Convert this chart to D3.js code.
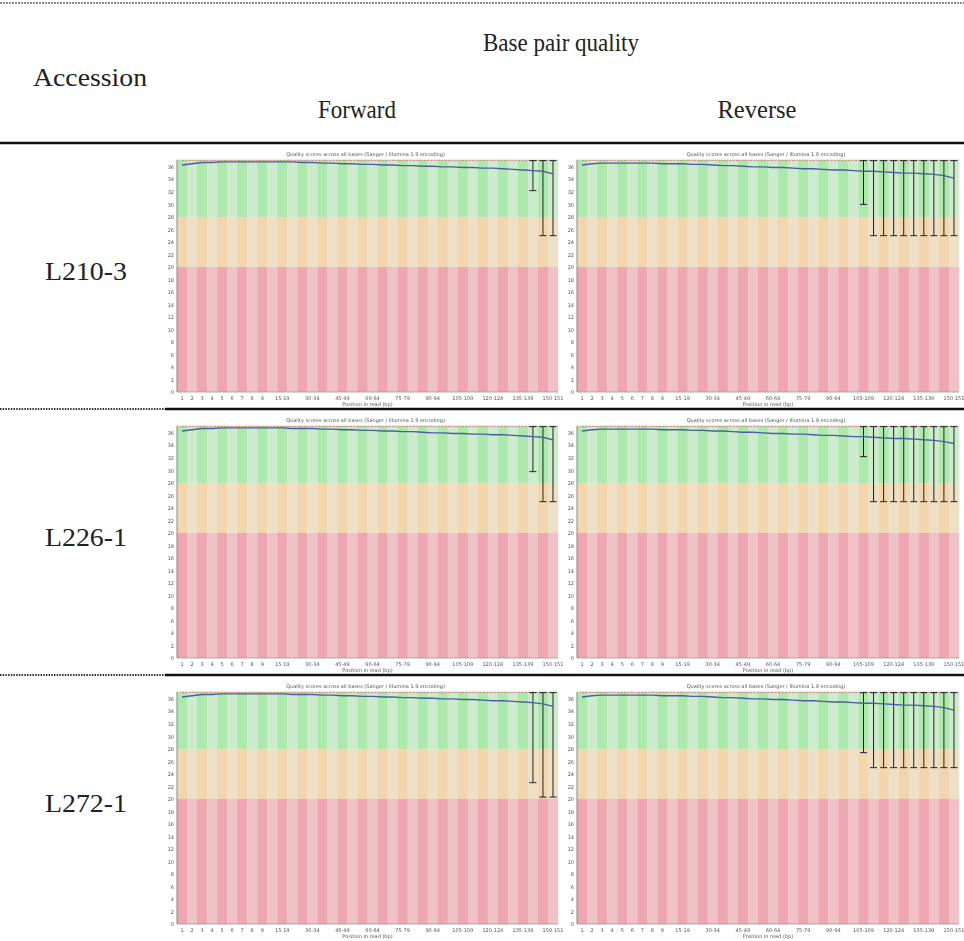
<!DOCTYPE html>
<html>
<head>
<meta charset="utf-8">
<script src="https://cdn.jsdelivr.net/npm/d3@7"></script>
<style>
  html, body { margin: 0; padding: 0; background: #fff; }
  svg { display: block; }
</style>
</head>
<body>
<svg id="chart" width="964" height="941"></svg>
<script>
// Accessions (table rows) and read directions (table columns)
const accessions = ["L210-3", "L226-1", "L272-1"];
const directions = ["Forward", "Reverse"];

// Base position groups along the read (FastQC grouping for 151 bp reads)
const positions = ["1","2","3","4","5","6","7","8","9",
  "10-14","15-19","20-24","25-29","30-34","35-39","40-44","45-49","50-54","55-59",
  "60-64","65-69","70-74","75-79","80-84","85-89","90-94","95-99","100-104","105-109",
  "110-114","115-119","120-124","125-129","130-134","135-139","140-144","145-149","150-151"];
const shownPositions = ["1","2","3","4","5","6","7","8","9","15-19","30-34","45-49",
  "60-64","75-79","90-94","105-109","120-124","135-139","150-151"];
const qualityTicks = [0,2,4,6,8,10,12,14,16,18,20,22,24,26,28,30,32,34,36];

// Mean Phred quality per position group
const meanL210F = [36.3,36.5,36.7,36.7,36.8,36.8,36.8,36.8,36.8,36.8,36.8,36.8,36.7,36.7,36.6,36.6,36.5,36.5,36.4,
  36.4,36.3,36.3,36.2,36.2,36.1,36.1,36.0,36.0,35.9,35.9,35.8,35.8,35.7,35.6,35.5,35.4,35.3,34.9];
const meanL210R = [36.3,36.5,36.6,36.6,36.6,36.6,36.6,36.6,36.5,36.5,36.5,36.4,36.4,36.3,36.2,36.2,36.1,36.0,36.0,
  35.9,35.9,35.8,35.7,35.7,35.6,35.5,35.5,35.4,35.3,35.3,35.2,35.1,35.0,35.0,34.9,34.8,34.6,34.2];
const meanL226F = [36.3,36.5,36.7,36.7,36.8,36.8,36.8,36.8,36.8,36.8,36.8,36.7,36.7,36.7,36.6,36.6,36.5,36.5,36.4,
  36.4,36.3,36.3,36.2,36.2,36.1,36.0,36.0,35.9,35.9,35.8,35.8,35.7,35.7,35.6,35.5,35.4,35.3,34.9];
const meanL226R = [36.3,36.5,36.6,36.6,36.6,36.6,36.6,36.6,36.5,36.5,36.5,36.4,36.4,36.3,36.3,36.2,36.1,36.1,36.0,
  35.9,35.9,35.8,35.8,35.7,35.6,35.6,35.5,35.4,35.4,35.3,35.2,35.1,35.1,35.0,34.9,34.8,34.6,34.3];
const meanL272F = [36.3,36.5,36.7,36.7,36.8,36.8,36.8,36.8,36.8,36.8,36.8,36.7,36.7,36.7,36.6,36.6,36.5,36.5,36.4,
  36.4,36.3,36.3,36.2,36.2,36.1,36.1,36.0,36.0,35.9,35.9,35.8,35.7,35.7,35.6,35.5,35.4,35.2,34.8];
const meanL272R = [36.3,36.5,36.6,36.6,36.6,36.6,36.6,36.6,36.5,36.5,36.5,36.4,36.4,36.3,36.2,36.2,36.1,36.0,36.0,
  35.9,35.9,35.8,35.7,35.7,35.6,35.5,35.5,35.4,35.3,35.3,35.2,35.1,35.0,35.0,34.9,34.8,34.6,34.2];

// Median quality per position group
const medianAll = [37,37,37,37,37,37,37,37,37,37,37,37,37,37,37,37,37,37,37,
  37,37,37,37,37,37,37,37,37,37,37,37,37,37,37,37,37,37,37];

// 10th percentile (lower whisker) per position group; upper whisker sits at 37
const lowL210F = [37,37,37,37,37,37,37,37,37,37,37,37,37,37,37,37,37,37,37,
  37,37,37,37,37,37,37,37,37,37,37,37,37,37,37,37,32.2,25,25];
const lowL210R = [37,37,37,37,37,37,37,37,37,37,37,37,37,37,37,37,37,37,37,
  37,37,37,37,37,37,37,37,37,30,25,25,25,25,25,25,25,25,25];
const lowL226F = [37,37,37,37,37,37,37,37,37,37,37,37,37,37,37,37,37,37,37,
  37,37,37,37,37,37,37,37,37,37,37,37,37,37,37,37,29.8,25,25];
const lowL226R = [37,37,37,37,37,37,37,37,37,37,37,37,37,37,37,37,37,37,37,
  37,37,37,37,37,37,37,37,37,32.2,25,25,25,25,25,25,25,25,25];
const lowL272F = [37,37,37,37,37,37,37,37,37,37,37,37,37,37,37,37,37,37,37,
  37,37,37,37,37,37,37,37,37,37,37,37,37,37,37,37,22.6,20.3,20.3];
const lowL272R = [37,37,37,37,37,37,37,37,37,37,37,37,37,37,37,37,37,37,37,
  37,37,37,37,37,37,37,37,37,27.4,25,25,25,25,25,25,25,25,25];
const highAll = medianAll;

const panels = [
  { row: 0, col: 0, mean: meanL210F, low: lowL210F },
  { row: 0, col: 1, mean: meanL210R, low: lowL210R },
  { row: 1, col: 0, mean: meanL226F, low: lowL226F },
  { row: 1, col: 1, mean: meanL226R, low: lowL226R },
  { row: 2, col: 0, mean: meanL272F, low: lowL272F },
  { row: 2, col: 1, mean: meanL272R, low: lowL272R }
];

const svg = d3.select("#chart");
svg.append("rect").attr("width", 964).attr("height", 941).attr("fill", "#fff");

const serif = "'Liberation Serif', 'DejaVu Serif', serif";
const sans = "'DejaVu Sans', 'Liberation Sans', sans-serif";

// Slight softening for the embedded plot panels
const defs = svg.append("defs");
defs.append("filter").attr("id", "soft")
  .attr("x", "-2%").attr("y", "-2%").attr("width", "104%").attr("height", "104%")
  .append("feGaussianBlur").attr("stdDeviation", 0.45);

// ---- table header ----
svg.append("line").attr("x1", 0).attr("x2", 964).attr("y1", 3).attr("y2", 3)
  .attr("stroke", "#666").attr("stroke-width", 1.5).attr("stroke-dasharray", "2,1");

function headerText(txt, x, y, len) {
  svg.append("text").attr("x", x).attr("y", y)
    .attr("text-anchor", "middle")
    .attr("font-family", serif).attr("font-size", 26)
    .attr("fill", "#222")
    .attr("textLength", len).attr("lengthAdjust", "spacingAndGlyphs")
    .text(txt);
}
headerText("Base pair quality", 561, 51, 156);
headerText("Accession", 90, 86, 114);
headerText(directions[0], 357, 118, 78);
headerText(directions[1], 757, 118, 79);

svg.append("line").attr("x1", 0).attr("x2", 964).attr("y1", 143).attr("y2", 143)
  .attr("stroke", "#111").attr("stroke-width", 2.5);

const rowTop = [143, 409, 675];

// row separators: dotted under the accession column, solid across the plots
[409, 675].forEach(y => {
  svg.append("line").attr("x1", 0).attr("x2", 165).attr("y1", y).attr("y2", y)
    .attr("stroke", "#333").attr("stroke-width", 2.2).attr("stroke-dasharray", "1.5,1.2");
  svg.append("line").attr("x1", 165).attr("x2", 964).attr("y1", y).attr("y2", y)
    .attr("stroke", "#111").attr("stroke-width", 2.5);
});

accessions.forEach((acc, i) => {
  svg.append("text").attr("x", 86).attr("y", rowTop[i] + 137)
    .attr("text-anchor", "middle")
    .attr("font-family", serif).attr("font-size", 26).attr("fill", "#222")
    .attr("textLength", 82).attr("lengthAdjust", "spacingAndGlyphs")
    .text(acc);
});

// ---- per-base quality panels ----
const colGeom = [{ left: 177, right: 558 }, { left: 577, right: 959 }];

const stripeColors = {
  good: ["#ade8ad", "#cdeccd"],
  fair: ["#f1d6ae", "#ede0c6"],
  poor: ["#eea6b0", "#f0c2c8"]
};

panels.forEach(p => {
  const g = svg.append("g").attr("filter", "url(#soft)");
  const top = rowTop[p.row] + 17;
  const bottom = rowTop[p.row] + 249;
  const { left, right } = colGeom[p.col];

  const x = d3.scaleBand().domain(positions).range([left, right]).padding(0);
  const y = d3.scaleLinear().domain([0, 37.1]).range([bottom, top]);

  // quality zone stripes
  const zones = [
    { lo: 28, hi: 37.1, c: stripeColors.good },
    { lo: 20, hi: 28, c: stripeColors.fair },
    { lo: 0, hi: 20, c: stripeColors.poor }
  ];
  zones.forEach(z => {
    g.selectAll(null).data(positions).join("rect")
      .attr("x", d => x(d))
      .attr("width", x.bandwidth() + 0.3)
      .attr("y", y(z.hi))
      .attr("height", y(z.lo) - y(z.hi))
      .attr("fill", (d, i) => z.c[i % 2]);
  });

  // axes frame
  g.append("line").attr("x1", left).attr("x2", left).attr("y1", top).attr("y2", bottom)
    .attr("stroke", "#888").attr("stroke-width", 1);
  g.append("line").attr("x1", left).attr("x2", right).attr("y1", bottom).attr("y2", bottom)
    .attr("stroke", "#999").attr("stroke-width", 0.8);
  g.append("line").attr("x1", left).attr("x2", right).attr("y1", top).attr("y2", top)
    .attr("stroke", "#bbb").attr("stroke-width", 0.6);

  // y axis labels
  const yAxis = d3.axisLeft(y).tickValues(qualityTicks).tickSize(0).tickPadding(3);
  const ya = g.append("g").attr("transform", `translate(${left},0)`).call(yAxis);
  ya.select(".domain").remove();
  ya.selectAll("text").attr("font-family", sans).attr("font-size", 5).attr("fill", "#555");

  // x axis labels
  const xAxis = d3.axisBottom(x).tickValues(shownPositions).tickSize(0).tickPadding(4);
  const xa = g.append("g").attr("transform", `translate(0,${bottom})`).call(xAxis);
  xa.select(".domain").remove();
  xa.selectAll("text").attr("font-family", sans).attr("font-size", 5).attr("fill", "#555");

  g.append("text").attr("x", (left + right) / 2).attr("y", bottom + 14)
    .attr("text-anchor", "middle").attr("font-family", sans).attr("font-size", 5)
    .attr("fill", "#555").text("Position in read (bp)");

  g.append("text").attr("x", (left + right) / 2 - 2).attr("y", top - 4)
    .attr("text-anchor", "middle").attr("font-family", sans).attr("font-size", 5)
    .attr("fill", "#555").text("Quality scores across all bases (Sanger / Illumina 1.9 encoding)");

  // median line
  const cx = d => x(d) + x.bandwidth() / 2;
  g.append("path")
    .datum(medianAll)
    .attr("d", d3.line().x((d, i) => cx(positions[i])).y(d => y(d)))
    .attr("fill", "none").attr("stroke", "#e25a5a").attr("stroke-width", 0.8)
    .attr("stroke-dasharray", "2,1.5").attr("opacity", 0.8);

  // whiskers (10th to 90th percentile)
  const wh = positions.map((pos, i) => ({ pos, lo: p.low[i], hi: highAll[i] }))
    .filter(d => d.lo < d.hi);
  g.selectAll(null).data(wh).join("line")
    .attr("x1", d => cx(d.pos)).attr("x2", d => cx(d.pos))
    .attr("y1", d => y(d.hi)).attr("y2", d => y(d.lo))
    .attr("stroke", "#222").attr("stroke-width", 1);
  ["lo", "hi"].forEach(k => {
    g.selectAll(null).data(wh).join("line")
      .attr("x1", d => cx(d.pos) - 3.5).attr("x2", d => cx(d.pos) + 3.5)
      .attr("y1", d => y(d[k])).attr("y2", d => y(d[k]))
      .attr("stroke", "#222").attr("stroke-width", 1);
  });

  // mean quality line
  g.append("path")
    .datum(p.mean)
    .attr("d", d3.line().x((d, i) => cx(positions[i])).y(d => y(d)))
    .attr("fill", "none").attr("stroke", "#4a5fa0").attr("stroke-width", 1.3);
});
</script>
</body>
</html>
